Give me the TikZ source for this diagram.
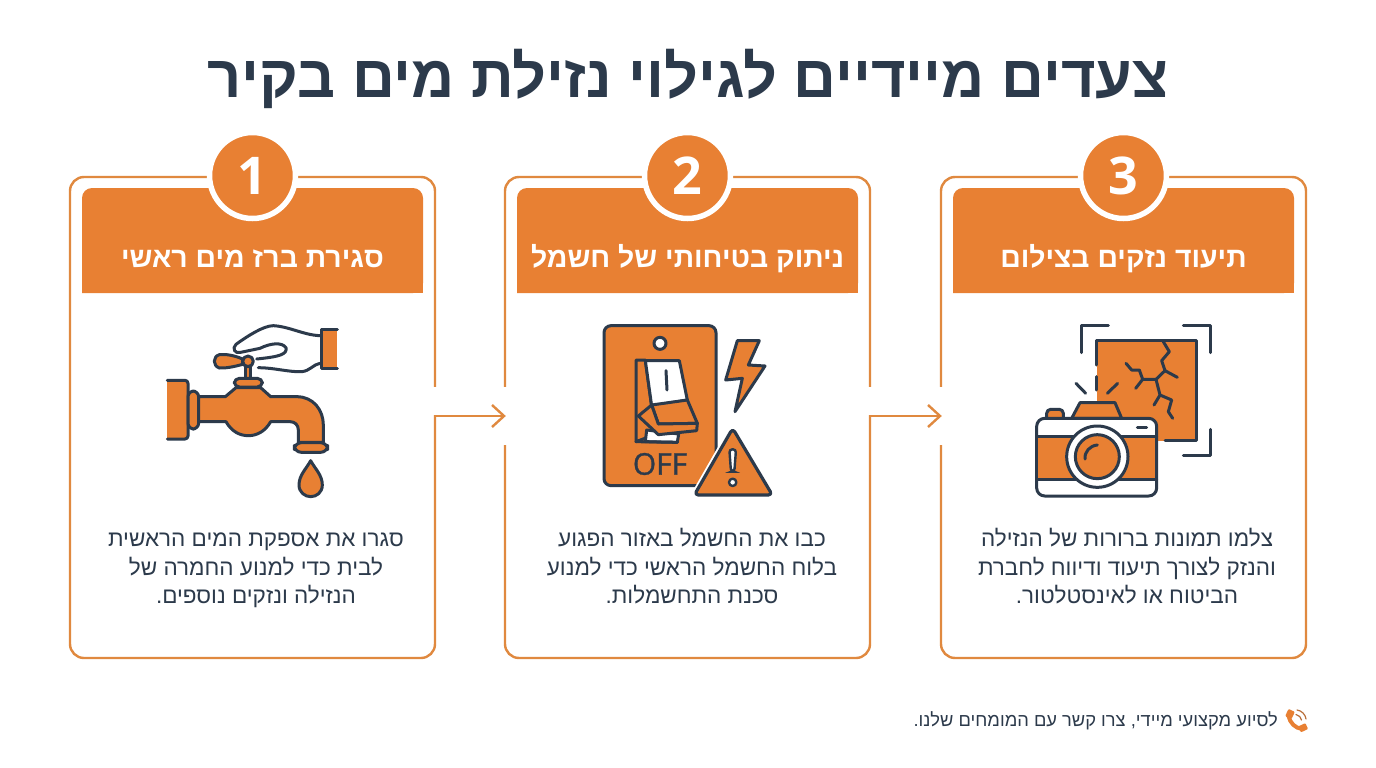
\documentclass[tikz,border=0pt]{standalone}
\usepackage{fontspec}
\usetikzlibrary{arrows.meta}
\TeXXeTstate=1
\setmainfont[Script=Hebrew]{Liberation Sans}
\newfontfamily\latinf{Open Sans}
\newfontfamily\offfont[FakeBold=1]{Open Sans}
\definecolor{org}{HTML}{E88033}
\definecolor{brd}{HTML}{E0893F}
\definecolor{ink}{HTML}{2C3A4B}
\newcommand{\rtl}[1]{\beginR #1\endR}
\newcommand{\rtls}[1]{\strut\beginR #1\endR}
\tikzset{
 x=1pt,y=-1pt,
 card/.style={draw=brd,line width=2.4pt,fill=white,rounded corners=14pt,minimum width=365pt,minimum height=481pt,inner sep=0pt,anchor=center},
 headtext/.style={text=white,font=\fontsize{28.4}{31}\selectfont\bfseries,inner sep=0pt,text height=22pt,text depth=6pt},
 bodytext/.style={text=ink,align=center,font=\fontsize{22.5}{28.6}\selectfont,inner sep=0pt},
 badge/.style={circle,fill=org,draw=white,line width=5.5pt,minimum size=86pt,inner sep=0pt,text=white,font=\latinf\fontsize{52}{52}\selectfont\bfseries},
 conn/.style={draw=brd,line width=2.4pt,shorten >=-2pt,-{Straight Barb[length=12pt,width=22pt,line width=2.4pt]}},
 ic/.style={draw=ink,fill=org,line width=3pt,line join=round,line cap=round},
 icw/.style={draw=ink,fill=white,line width=3pt,line join=round,line cap=round},
 icl/.style={draw=ink,line width=3pt,line join=round,line cap=round},
}
\begin{document}
\begin{tikzpicture}
\useasboundingbox[fill=white] (0,0) rectangle (1376,768);
\node[text=ink,inner sep=0pt,font=\fontsize{59.4}{62}\selectfont\bfseries] (title) at (688,78.5) {\rtl{צעדים מיידיים לגילוי נזילת מים בקיר}};
% cards
\node[card] (c1) at (252.5,417.5) {};
\node[card] (c2) at (687.5,417.5) {};
\node[card] (c3) at (1123.5,417.5) {};
% gaps in borders
\fill[white] (430,387) rectangle (440,415);
\fill[white] (500,387) rectangle (510,445);
\fill[white] (865,387) rectangle (875,415);
\fill[white] (936,387) rectangle (946,445);
% headers
\foreach \cx/\n in {252.5/1,687.5/2,1123.5/3}{
 \fill[org,rounded corners=10pt] (\cx-170.5,293) -- (\cx-170.5,188) -- (\cx+170.5,188) -- (\cx+170.5,293) [sharp corners] -- cycle;
 \fill[org] (\cx-170.5,270) rectangle (\cx+170.5,293);
 \node[badge] (b\n) at (\cx,175.5) {\n};
}
\node[headtext] (h1) at (252.5,259.5) {\rtl{סגירת ברז מים ראשי}};
\node[headtext] (h2) at (687.5,259.5) {\rtl{ניתוק בטיחותי של חשמל}};
\node[headtext] (h3) at (1123.5,259.5) {\rtl{תיעוד נזקים בצילום}};
% body
\node[bodytext] (t1) at (256,569.5) {\rtls{סגרו את אספקת המים הראשית}\\\rtls{לבית כדי למנוע החמרה של}\\\rtls{הנזילה ונזקים נוספים.}};
\node[bodytext] (t2) at (692,569.5) {\rtls{כבו את החשמל באזור הפגוע}\\\rtls{בלוח החשמל הראשי כדי למנוע}\\\rtls{סכנת התחשמלות.}};
\node[bodytext] (t3) at (1127,569.5) {\rtls{צלמו תמונות ברורות של הנזילה}\\\rtls{והנזק לצורך תיעוד ודיווח לחברת}\\\rtls{הביטוח או לאינסטלטור.}};
% connectors
\draw[conn] ([yshift=1.5pt]c1.east) -- ([yshift=1.5pt]c2.west);
\draw[conn] ([yshift=1.5pt]c2.east) -- ([yshift=1.5pt]c3.west);
% footer
\node[anchor=east,text=ink,inner sep=0pt,font=\fontsize{18.3}{20}\selectfont] (foot) at (1278,721) {\rtl{לסיוע מקצועי מיידי, צרו קשר עם המומחים שלנו.}};
% phone icon
\draw[org,line width=4pt,line cap=round] (1288.5,716) .. controls (1290,723) and (1295,728) .. (1302,729);
\fill[org,rotate around={-25:(1290,714)},rounded corners=1pt] (1286.5,710) rectangle (1293.5,718);
\fill[org,rotate around={25:(1303,727.5)},rounded corners=1pt] (1299,724.5) rectangle (1307,731);
\draw[org!75!ink,line width=1.2pt,line cap=round] (1296,714.5) .. controls (1299,715) and (1301,717.5) .. (1301.5,720);
\draw[org!75!ink,line width=1.2pt,line cap=round] (1297,710) .. controls (1301.5,710.5) and (1305.5,714.5) .. (1306,719);
% faucet icon
\begin{scope}[shift={(150,315)},scale=1/3]
 % hand
 \draw[icw] (510,62) .. controls (460,60) and (420,35) .. (370,32) .. controls (340,32) and (290,65) .. (258,88) .. controls (245,100) and (255,118) .. (272,112) -- (330,100) .. controls (360,85) and (395,80) .. (408,98) .. controls (412,118) and (390,125) .. (320,132);
 \draw[icl] (325,158) .. controls (370,158) and (420,172) .. (455,170) .. controls (480,168) and (490,148) .. (510,145);
 \path[fill=org] (515,44) rectangle (562,160);
 \draw[icl] (562,44) -- (515,44) -- (515,160) -- (562,160);
 % handle
 \draw[ic] (278,132) .. controls (250,120) and (225,117) .. (208,119) .. controls (188,125) and (188,152) .. (208,159) .. controls (225,160) and (250,156) .. (278,148) -- cycle;
 \draw[ic] (286,155) rectangle (302,190);
 \draw[ic] (294,139) circle (16);
 % bonnet
 \draw[ic,rounded corners=5pt] (253,190) rectangle (337,216);
 % flanges
 \path[fill=org] (52,196) rectangle (112,372);
 \draw[icl] (52,196) -- (105,196) .. controls (110,196) and (114,200) .. (114,205) -- (114,363) .. controls (114,368) and (110,372) .. (105,372) -- (52,372);
 \draw[ic,rounded corners=6pt] (114,228) rectangle (146,342);
 % body
 \draw[ic] (146,245) -- (226,245) -- (258,218) -- (332,218) -- (362,245) -- (440,245) .. controls (490,245) and (520,285) .. (520,330) -- (520,382) -- (445,382) -- (445,345) .. controls (445,330) and (435,320) .. (420,320) -- (362,320) .. controls (345,350) and (320,362) .. (295,362) .. controls (270,362) and (245,350) .. (228,320) -- (146,320) -- cycle;
 % nozzle
 \draw[ic,rounded corners=7pt] (433,383) rectangle (533,412);
 % drop
 \draw[ic] (482,437) .. controls (470,460) and (447,480) .. (447,510) .. controls (447,532) and (465,545) .. (482,545) .. controls (500,545) and (517,532) .. (517,510) .. controls (517,480) and (494,460) .. (482,437) -- cycle;
\end{scope}
% switch icon
\begin{scope}[shift={(580,310)},scale=1/3]
 \draw[ic,rounded corners=7pt] (72,47) rectangle (408,527);
 \draw[icw] (240,100) circle (18);
 % switch
 \draw[ic] (168,150) -- (196,150) -- (215,290) -- (235,370) -- (168,395) -- cycle;
 \draw[icw] (196,152) -- (298,152) -- (322,270) -- (215,288) -- cycle;
 \draw[icl] (258,182) -- (261,240);
 \draw[icw] (200,360) -- (296,372) -- (292,397) -- (196,395) -- cycle;
 \draw[icl] (168,395) -- (292,397);
 \draw[ic] (215,285) -- (322,270) -- (352,340) -- (235,342) -- cycle;
 \draw[ic] (235,342) -- (352,340) -- (350,362) -- (235,374) -- (175,318) -- (215,285) -- cycle;
 % OFF
 \node[text=ink,inner sep=0pt,font=\offfont\fontsize{30}{30}\selectfont] (off) at (240,462) {OFF};
 % bolt
 \draw[ic] (472,92) -- (538,92) -- (505,165) -- (555,168) -- (465,305) -- (487,205) -- (437,210) -- cycle;
 % warning
 \draw[draw=white,line width=8pt,line join=round] (458,358) -- (345,555) -- (575,555) -- cycle;
 \draw[ic,line width=3.2pt,rounded corners=4pt] (458,355) -- (343,555) -- (577,555) -- cycle;
 \draw[draw=ink,fill=white,line width=2.4pt,rounded corners=3pt] (448,418) -- (468,418) -- (463,485) -- (453,485) -- cycle;
 \draw[icw,line width=2.4pt] (458,517) circle (11);
\end{scope}
% camera icon
\begin{scope}[shift={(1020,310)},scale=1/3]
 \draw[icl] (185,128) -- (185,47) -- (265,47);
 \draw[icl] (490,47) -- (572,47) -- (572,128);
 \draw[icl] (572,358) -- (572,437) -- (490,437);
 \fill[org] (230,92) rectangle (528,392);
 \draw[icl] (230,165) -- (230,92) -- (528,92) -- (528,392) -- (435,392);
 \draw[icl] (230,200) -- (230,240);
 % cracks
 \draw[icl] (430,95) -- (448,125) -- (425,152) -- (435,182) -- (408,208) -- (368,208) -- (358,180) -- (335,180) -- (318,160);
 \draw[icl] (435,182) -- (472,202);
 \draw[icl] (368,208) -- (347,235);
 \draw[icl] (408,208) -- (420,255) -- (402,285);
 \draw[icl] (420,255) -- (455,270) -- (445,305) -- (458,325);
 % rays
 \draw[icl] (168,220) -- (197,250);
 \draw[icl] (262,250) -- (293,220);
 % top
 \draw[ic] (155,325) -- (180,278) -- (285,278) -- (305,325) -- cycle;
 \draw[ic,rounded corners=4pt] (80,325) -- (80,298) -- (130,298) -- (130,325);
 % body
 \draw[icw,rounded corners=8pt] (50,325) rectangle (410,558);
 \fill[org] (50,378) rectangle (410,508);
 \draw[icl] (50,378) -- (410,378) (50,508) -- (410,508) (50,378) -- (50,508) (410,378) -- (410,508);
 \draw[icl] (352,352) -- (380,352);
 % lens
 \draw[icw] (232,440) circle (92);
 \draw[ic] (232,440) circle (66);
 \draw[icl] (195,447) .. controls (193,425) and (210,407) .. (232,405);
\end{scope}
\end{tikzpicture}
\end{document}
